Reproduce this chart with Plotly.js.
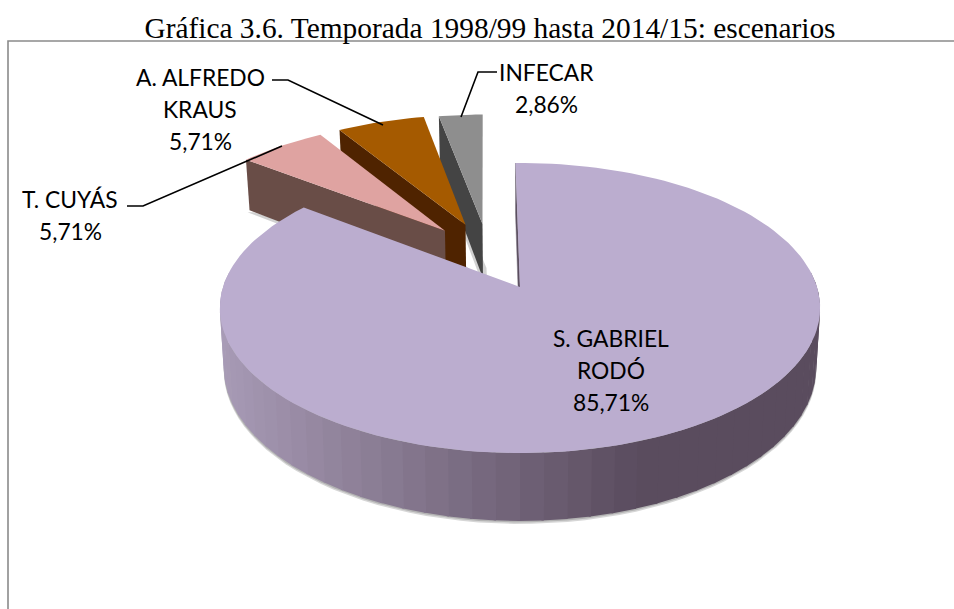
<!DOCTYPE html>
<html><head><meta charset="utf-8">
<script src="https://cdn.plot.ly/plotly-3.0.1.min.js"></script>
<style>html,body{margin:0;padding:0;background:#fff}</style></head>
<body><div id="chart" style="width:954px;height:609px"></div>
<script>
// ---- data
const titleText = "Gráfica 3.6. Temporada 1998/99 hasta 2014/15: escenarios";
const categories = ["S. GABRIEL RODÓ", "T. CUYÁS", "A. ALFREDO KRAUS", "INFECAR"];
const values = [85.71, 5.71, 5.71, 2.86];
const labelLines = [["S. GABRIEL", "RODÓ"], ["T. CUYÁS"], ["A. ALFREDO", "KRAUS"], ["INFECAR"]];

// ---- styling and 3-D view
const topColors = ["#BBADCF", "#DFA3A1", "#A55A00", "#8E8E8E"];
const wallColors = ["#5A4C5E", "#694D47", "#4F2300", "#444444"];
const explode = [[0, 0], [-0.268, 0.42], [-0.196, 0.468], [-0.135, 0.475]];
const labelAnchors = [[611, 338], [70, 199], [200, 77], [546, 72]];
const leaders = [null, [[127,206],[143,206],[282,146]], [[272,80],[288,80],[383,125]], [[497,72],[478,72],[461,117]]];
const view = {X0: 520, Y0: 287, R: 297, S: 142, k: 0.145, H: 58, firstAngle: -1};

function project(u, v, drop) {
  const w = 1 + view.k * v;
  let x = view.X0 + view.R * u / w;
  let y = view.Y0 - view.S * v / w;
  if (drop) { y += view.H / w; x = view.X0 + (x - view.X0) * 0.987; }
  return [x, y];
}
function rim(theta, off, drop) {
  const a = theta * Math.PI / 180;
  return project(off[0] + Math.sin(a), off[1] + Math.cos(a), drop);
}
const traces = [];
function poly(pts, color, lineColor) {
  traces.push({type: "scatter", mode: "lines", x: pts.map(p => p[0]), y: pts.map(p => p[1]),
    fill: "toself", fillcolor: color, line: {color: lineColor || color, width: lineColor ? 0.5 : 0},
    hoverinfo: "skip", showlegend: false});
}
function mix(a, b, t) {
  const c = [0, 1, 2].map(i => Math.round(a[i] + (b[i] - a[i]) * t));
  return "rgb(" + c.join(",") + ")";
}
const total = values.reduce((s, v) => s + v, 0);
const spans = [];
let acc = view.firstAngle;
values.forEach(v => { const d = v / total * 360; spans.push([acc, acc + d]); acc += d; });

// back slices, farthest first
for (let i = values.length - 1; i >= 1; i--) {
  const off = explode[i], [a0, a1] = spans[i];
  const ap = project(off[0], off[1], false), apB = project(off[0], off[1], true);
  const o0 = rim(a0, off, false), o0B = rim(a0, off, true);
  poly([[o0B[0]-2, o0B[1]+2], [apB[0]-2, apB[1]+2], [apB[0]+4, apB[1]+2], [ap[0]+4, ap[1]+44], [o0B[0]+4, o0B[1]+2]], "rgba(0,0,0,0.18)");
  poly([ap, o0, o0B, apB], wallColors[i]);
  const arc = [ap];
  for (let t = a0; t <= a1 + 0.01; t += (a1 - a0) / 12) arc.push(rim(t, off, false));
  poly(arc, topColors[i]);
}
// main slice: shadow, start wall, banded rim, top face
const off0 = explode[0], [s0, s1] = spans[0];
const shadow = [];
for (let t = 82; t <= 278; t += 3) shadow.push(rim(t, off0, true));
[3, 1.5].forEach(dy => poly(shadow.map(p => [p[0], p[1] + dy]), "rgba(0,0,0,0.16)"));
poly([project(0,0,false), rim(s0,off0,false), rim(s0,off0,true), project(0,0,true)], wallColors[0], "#77707c");
const lightRim = [168, 155, 182], darkRim = [90, 76, 94];
for (let t = 84; t < 276; t += 4) {
  const a = rim(t, off0, false), b = rim(t + 4.4, off0, false), c = rim(t + 4.4, off0, true), d = rim(t, off0, true);
  const f = Math.min(1, Math.max(0, (650 - a[0]) / (650 - 221)));
  poly([a, b, c, d], mix(darkRim, lightRim, f));
}
const topFace = [project(0, 0, false)];
for (let t = s0; t <= s1 + 0.01; t += 2) topFace.push(rim(t, off0, false));
topFace.push(rim(s1, off0, false));
poly(topFace, topColors[0]);

// leader lines
leaders.forEach(l => { if (l) traces.push({type: "scatter", mode: "lines", x: l.map(p => p[0]), y: l.map(p => p[1]),
  line: {color: "#000", width: 1.6}, hoverinfo: "skip", showlegend: false}); });

// data labels, one annotation per line
const annotations = [];
categories.forEach((c, i) => {
  const lines = labelLines[i].concat([values[i].toFixed(2).replace(".", ",") + "%"]);
  lines.forEach((txt, j) => annotations.push({xref: "x", yref: "y", x: labelAnchors[i][0], y: labelAnchors[i][1] + j * 32,
    text: txt, showarrow: false, xanchor: "center", yanchor: "middle", font: {family: "Lato, sans-serif", size: 22.8, color: "#000"}}));
});

const layout = {
  width: 954, height: 609, autosize: false, showlegend: false,
  margin: {l: 0, r: 0, t: 0, b: 0}, paper_bgcolor: "#fff", plot_bgcolor: "#fff",
  title: {text: titleText, x: 490 / 954, xanchor: "center", y: 1 - 28 / 609, yanchor: "middle",
    font: {family: "Liberation Serif, serif", size: 29.4, color: "#000"}},
  xaxis: {range: [0, 954], visible: false, fixedrange: true},
  yaxis: {range: [609, 0], visible: false, fixedrange: true},
  annotations: annotations,
  shapes: [{type: "path", path: "M 8 609 L 8 41 L 954 41", line: {color: "#8a8a8a", width: 1.6}, layer: "below"}]
};
Plotly.newPlot("chart", traces, layout, {displayModeBar: false, staticPlot: true});
</script></body></html>
